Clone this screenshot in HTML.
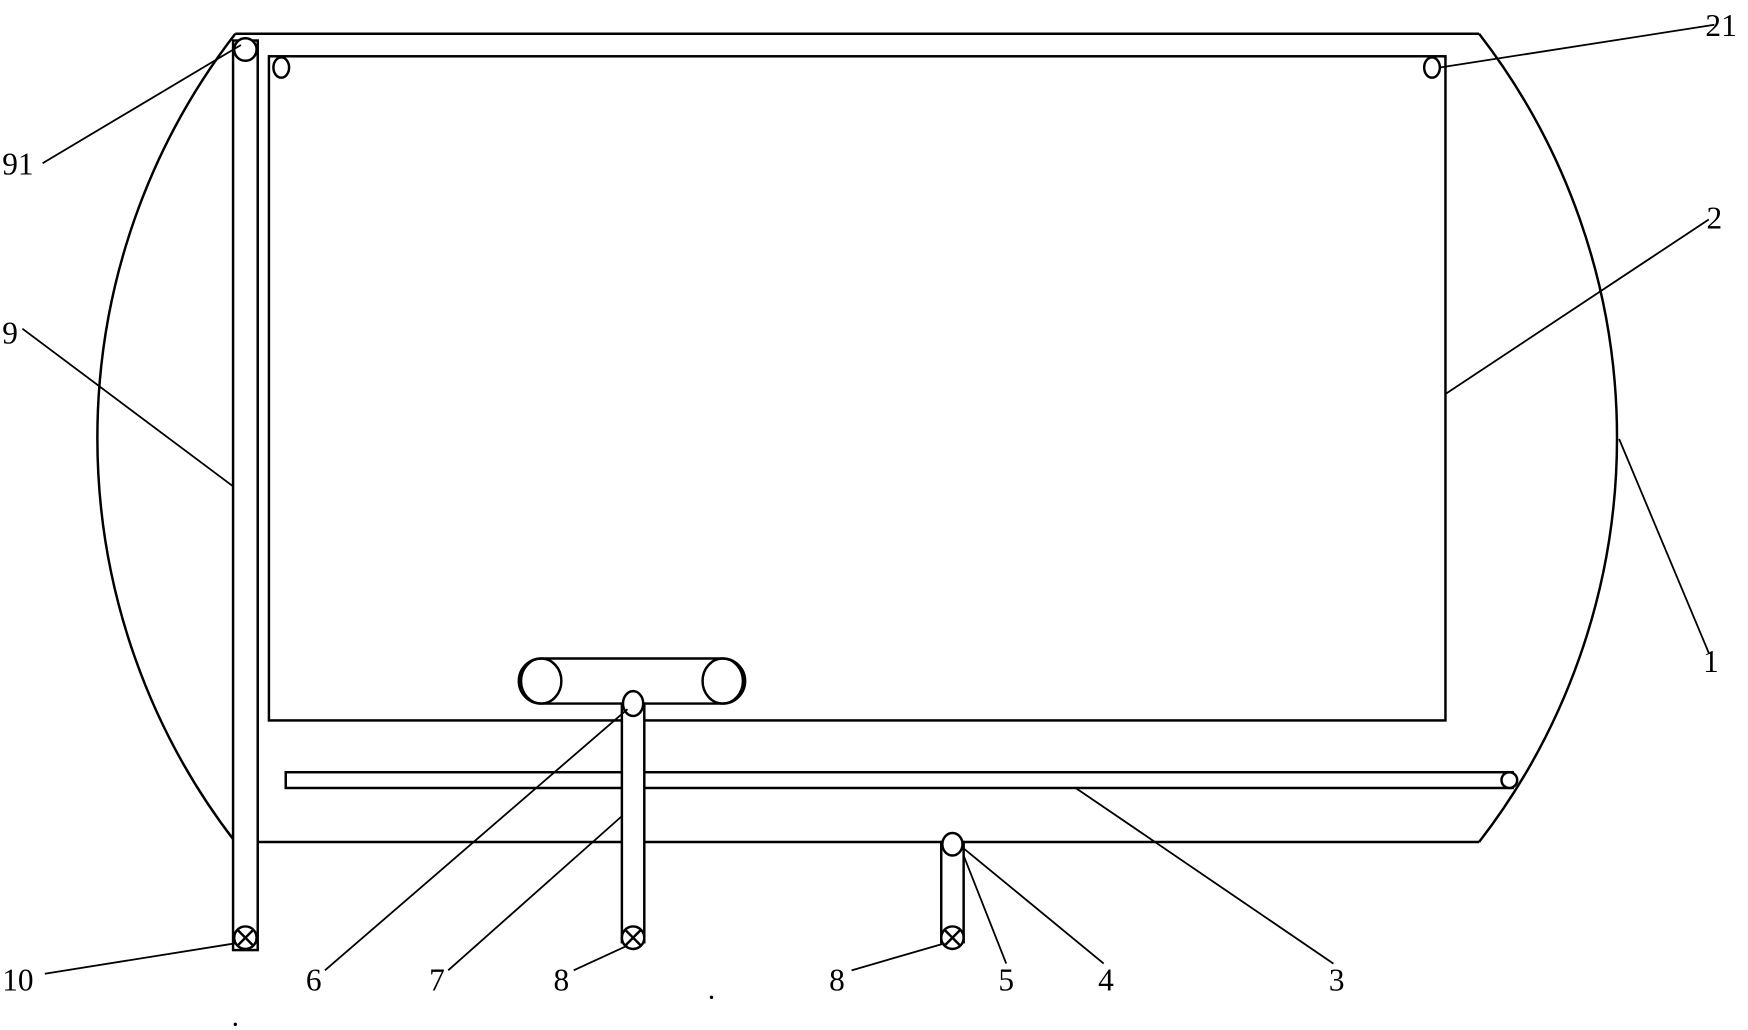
<!DOCTYPE html>
<html><head><style>html,body{margin:0;padding:0;background:#fff;overflow:hidden}svg{display:block}text{font-family:"Liberation Serif",serif;font-size:28px;fill:#000}</style></head>
<body>
<svg width="1748" height="1030" viewBox="0 0 1560 915" preserveAspectRatio="none" xmlns="http://www.w3.org/2000/svg">
<g fill="none" stroke="#000" stroke-width="2.2">
<line x1="210" y1="30" x2="1320" y2="30"/>
<line x1="230" y1="748" x2="1320" y2="748"/>
<path d="M1320 30 A585 585 0 0 1 1320 748"/>
<path d="M210 30 A585 585 0 0 0 210 748"/>
<rect x="208" y="36" width="22" height="808" fill="#fff"/>
<circle cx="219" cy="44" r="10" fill="#fff"/>
<circle cx="219" cy="833" r="10" fill="#fff"/>
<path d="M212 826 L226 840 M226 826 L212 840"/>
<rect x="240" y="50" width="1050" height="590"/>
<ellipse cx="251" cy="60" rx="7" ry="9"/>
<ellipse cx="1278" cy="60" rx="7" ry="9"/>
<rect x="255" y="686" width="1095" height="14"/>
<circle cx="1347" cy="693" r="7" fill="#fff"/>
<path d="M483 585 L645 585 A20 20 0 0 1 645 625 L483 625 A20 20 0 0 1 483 585 Z"/>
<ellipse cx="483" cy="605" rx="18" ry="20"/>
<ellipse cx="645" cy="605" rx="18" ry="20"/>
<rect x="555" y="625" width="20" height="212" fill="#fff"/>
<ellipse cx="565" cy="625" rx="9" ry="11" fill="#fff"/>
<circle cx="565" cy="833" r="10" fill="#fff"/>
<path d="M558 826 L572 840 M572 826 L558 840"/>
<rect x="840" y="748" width="20" height="89" fill="#fff"/>
<ellipse cx="850" cy="750" rx="9" ry="10" fill="#fff"/>
<circle cx="850" cy="833" r="10" fill="#fff"/>
<path d="M843 826 L857 840 M857 826 L843 840"/>
</g>
<g stroke="#000" stroke-width="1.6">
<line x1="38" y1="145" x2="215" y2="40"/>
<line x1="1530" y1="22" x2="1285" y2="60"/>
<line x1="1525" y1="195" x2="1290" y2="350"/>
<line x1="20" y1="292" x2="208" y2="432"/>
<line x1="1525" y1="580" x2="1445" y2="390"/>
<line x1="40" y1="865" x2="210" y2="838"/>
<line x1="290" y1="862" x2="560" y2="630"/>
<line x1="400" y1="862" x2="555" y2="725"/>
<line x1="512" y1="862" x2="560" y2="840"/>
<line x1="760" y1="862" x2="843" y2="838"/>
<line x1="898" y1="856" x2="860" y2="760"/>
<line x1="985" y1="856" x2="858" y2="752"/>
<line x1="1190" y1="856" x2="960" y2="700"/>
</g>
<circle cx="635" cy="886" r="1.5"/>
<circle cx="210" cy="910" r="1.5"/>
<text x="2" y="155">91</text>
<text x="1522" y="32">21</text>
<text x="1523" y="203">2</text>
<text x="2" y="305">9</text>
<text x="1520" y="597">1</text>
<text x="2" y="880">10</text>
<text x="273" y="880">6</text>
<text x="383" y="880">7</text>
<text x="494" y="880">8</text>
<text x="740" y="880">8</text>
<text x="891" y="880">5</text>
<text x="980" y="880">4</text>
<text x="1186" y="880">3</text>
</svg>
</body></html>
